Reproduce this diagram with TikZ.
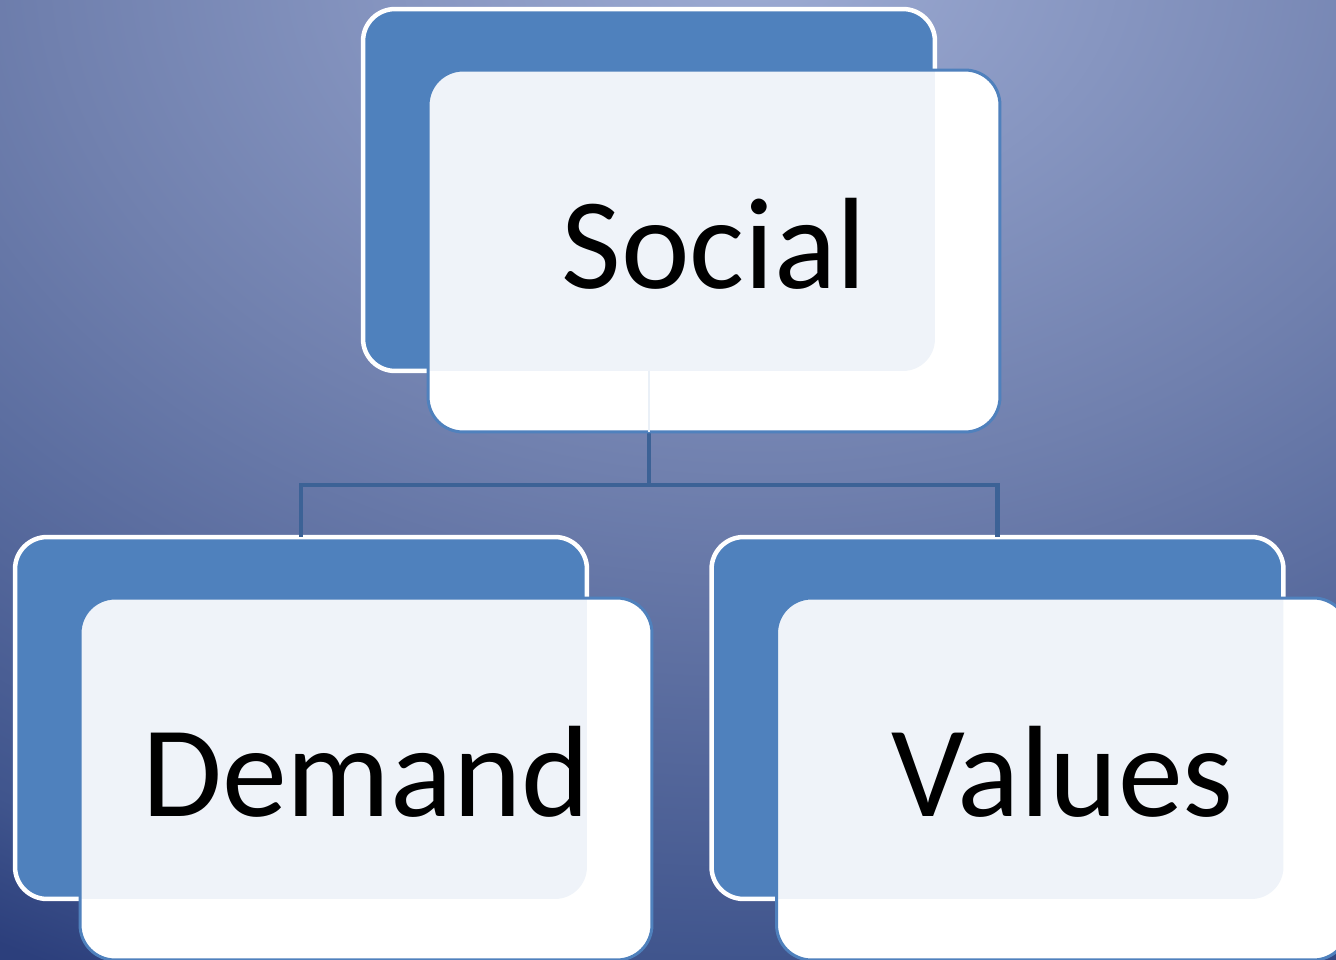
\documentclass[tikz,border=0pt]{standalone}
\usepackage{fontspec}
\setmainfont{Carlito}
\usepackage{tikz}
\definecolor{boxblue}{RGB}{79,129,189}
\definecolor{linkblue}{RGB}{60,98,150}
\definecolor{bgtop}{RGB}{157,171,211}
\definecolor{bgmid}{RGB}{112,128,174}
\definecolor{bglow}{RGB}{64,85,141}
\definecolor{bgdeep}{RGB}{44,63,124}
\pgfdeclareradialshading{slide background}{\pgfpoint{0bp}{0bp}}{color(0bp)=(bgtop); color(10.85bp)=(bgmid); color(20.85bp)=(bglow); color(23.5bp)=(bgdeep); color(50bp)=(bgdeep)}
\tikzset{
    back box/.style={rectangle, rounded corners=0.64cm, draw=white, line width=0.09cm, fill=boxblue, minimum width=11.44cm, minimum height=7.24cm, inner sep=0pt, outer sep=0pt},
    front box/.style={rectangle, rounded corners=0.7cm, draw=boxblue, line width=0.06cm, fill=white, minimum width=11.44cm, minimum height=7.24cm, inner sep=0pt, outer sep=0pt},
    tint/.style={fill=boxblue, fill opacity=0.09},
    link/.style={draw=linkblue, line width=0.09cm},
    faint link/.style={draw=boxblue!12, line width=0.05cm},
    item label/.style={font=\fontsize{74}{80}\selectfont, anchor=base, inner sep=0pt}
}

\begin{document}
\begin{tikzpicture}[x=0.02cm, y=-0.02cm]
    % Slide background (radial glow from the top, clipped to the slide)
    \begin{scope}
        \clip (0,0) rectangle (1336,960);
        \shade[shading=slide background] (-896,-1240) rectangle (2416,1160);
    \end{scope}
    \useasboundingbox (0,0) rectangle (1336,960);

    % Back boxes
    \foreach \id/\bx/\by in {social/649/190, demand/301/718, values/997.5/718} {
        \node[back box] (\id-back) at (\bx,\by) {};
    }

    % Tree connectors
    \coordinate (bus) at (649,485);
    \draw[link] (social-back.south) -- (bus);
    \draw[link] (bus) -| (demand-back.north);
    \draw[link] (bus) -| (values-back.north);

    % Front boxes with tinted overlap and labels
    \foreach \id/\bx/\by/\txt in {social/649/190/Social, demand/301/718/Demand, values/997.5/718/Values} {
        \node[front box] (\id-front) at ({\bx+65},{\by+61}) {};
        \begin{scope}
            \clip[rounded corners=0.7cm] (\id-front.south west) rectangle (\id-front.north east);
            \fill[tint, rounded corners=0.64cm] (\id-back.south west) rectangle (\id-back.north east);
        \end{scope}
        \node[item label] (\id-text) at ({\bx+65},{\by+98}) {\txt};
    }

    % Connector showing faintly through the top front box
    \draw[faint link] (social-back.south) -- (social-back.south |- social-front.south);
\end{tikzpicture}
\end{document}
